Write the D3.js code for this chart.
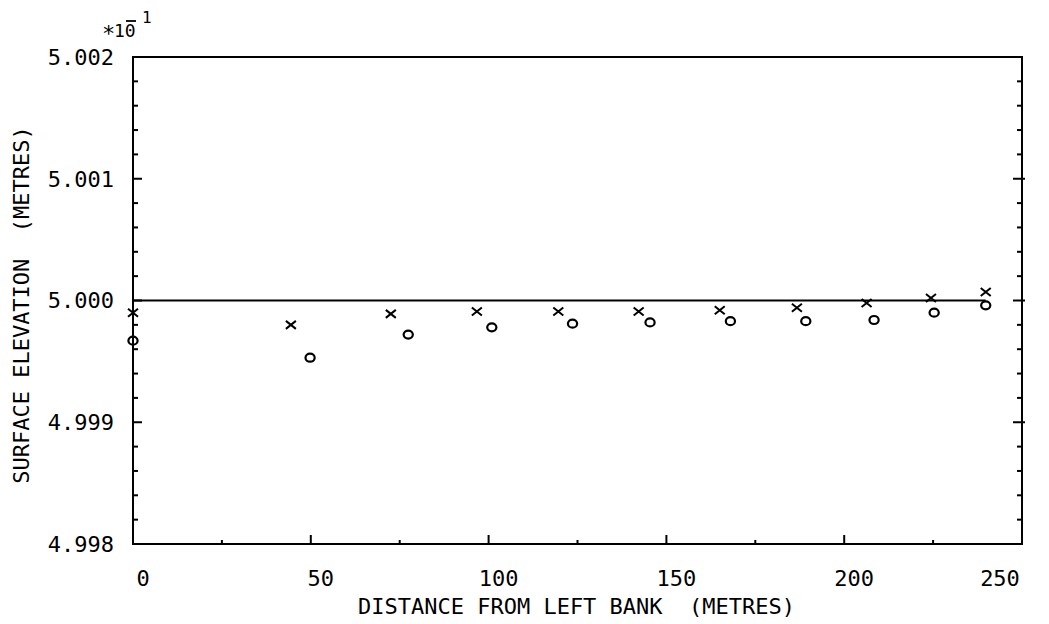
<!DOCTYPE html>
<html>
<head>
<meta charset="utf-8">
<script src="https://cdn.jsdelivr.net/npm/d3@7"></script>
<style>
  html, body { margin: 0; padding: 0; background: #fff; }
  svg { display: block; }
  text { font-family: "DejaVu Sans Mono", "Liberation Mono", monospace; fill: #000; }
</style>
</head>
<body>
<svg id="chart" width="1049" height="624"></svg>
<script>
// Cross-section surface elevation, two runs (x = crosses, o = circles)
const crossDist = [0, 44.4, 72.5, 96.7, 119.6, 142.2, 165.0, 186.7, 206.3, 224.4, 239.8];
const crossElev = [4.9999, 4.9998, 4.99989, 4.99991, 4.99991, 4.99991, 4.99992, 4.99994, 4.99998, 5.00002, 5.00007];
const circleDist = [0, 49.8, 77.4, 100.9, 123.6, 145.4, 168.0, 189.2, 208.4, 225.3, 239.8];
const circleElev = [4.99967, 4.99953, 4.99972, 4.99978, 4.99981, 4.99982, 4.99983, 4.99983, 4.99984, 4.9999, 4.99996];

// Reference level line
const levelDist = [0, 239.8];
const levelElev = [5.000, 5.000];

const xTicks = [0, 50, 100, 150, 200, 250];
const xMinorTicks = [25, 75, 125, 175, 225];
const yTicks = [4.998, 4.999, 5.000, 5.001, 5.002];
const yTickLabels = ["4.998", "4.999", "5.000", "5.001", "5.002"];

const svg = d3.select("#chart");
const plotLeft = 133, plotRight = 1022, plotTop = 57, plotBottom = 544;

const x = d3.scaleLinear().domain([0, 250]).range([plotLeft, plotRight]);
const y = d3.scaleLinear().domain([4.998, 5.002]).range([plotBottom, plotTop]);

const ink = "#000";
const sw = 2;
const fs = 22;

// Frame
svg.append("rect")
  .attr("x", plotLeft).attr("y", plotTop)
  .attr("width", plotRight - plotLeft).attr("height", plotBottom - plotTop)
  .attr("fill", "none").attr("stroke", ink).attr("stroke-width", sw);

// Bottom axis ticks (inward)
const gx = svg.append("g");
gx.selectAll("line.major").data(xTicks.slice(1, -1)).join("line")
  .attr("class", "major")
  .attr("x1", d => x(d)).attr("x2", d => x(d))
  .attr("y1", plotBottom).attr("y2", plotBottom - 9)
  .attr("stroke", ink).attr("stroke-width", sw);
gx.selectAll("line.minor").data(xMinorTicks).join("line")
  .attr("class", "minor")
  .attr("x1", d => x(d)).attr("x2", d => x(d))
  .attr("y1", plotBottom).attr("y2", plotBottom - 4)
  .attr("stroke", ink).attr("stroke-width", sw);

// Bottom tick labels, nudged right, last one kept inside the frame
gx.selectAll("text").data(xTicks).join("text")
  .attr("x", d => Math.min(x(d) + 10, plotRight - 22))
  .attr("y", 586)
  .attr("text-anchor", "middle")
  .attr("font-size", fs)
  .text(d => d);

// Left/right axis ticks every 0.0002
const yAll = d3.range(1, 20).map(i => 4.998 + i * 0.0002);
const isMajor = v => Math.abs(Math.round(v * 1000) - v * 1000) < 1e-6;
const gy = svg.append("g");
gy.selectAll("line.l").data(yAll).join("line")
  .attr("class", "l")
  .attr("x1", plotLeft).attr("x2", d => plotLeft + (isMajor(d) ? 9 : 5))
  .attr("y1", d => y(d)).attr("y2", d => y(d))
  .attr("stroke", ink).attr("stroke-width", sw);
gy.selectAll("line.r").data(yAll).join("line")
  .attr("class", "r")
  .attr("x1", d => plotRight + (isMajor(d) ? 3 : 0)).attr("x2", d => plotRight - (isMajor(d) ? 9 : 5))
  .attr("y1", d => y(d)).attr("y2", d => y(d))
  .attr("stroke", ink).attr("stroke-width", sw);

gy.selectAll("text").data(yTicks).join("text")
  .attr("x", 114)
  .attr("y", d => y(d))
  .attr("dy", "0.36em")
  .attr("text-anchor", "end")
  .attr("font-size", fs)
  .text((d, i) => yTickLabels[i]);

// Multiplier note above the axis: *10 with a bar over the 0 and a raised 1
svg.append("text").attr("x", 102).attr("y", 41).attr("font-size", 22).text("*");
svg.append("text").attr("x", 114).attr("y", 37).attr("font-size", 18).text("10");
svg.append("line").attr("x1", 126).attr("x2", 136).attr("y1", 21).attr("y2", 21)
  .attr("stroke", ink).attr("stroke-width", 1.8);
svg.append("text").attr("x", 142).attr("y", 23).attr("font-size", 16).text("1");

// Axis titles
svg.append("text")
  .attr("x", (plotLeft + plotRight) / 2 - 1).attr("y", 614)
  .attr("text-anchor", "middle").attr("font-size", fs)
  .attr("xml:space", "preserve")
  .text("DISTANCE FROM LEFT BANK  (METRES)");
svg.append("text")
  .attr("transform", "translate(29,305) rotate(-90)")
  .attr("text-anchor", "middle").attr("font-size", fs)
  .attr("xml:space", "preserve")
  .text("SURFACE ELEVATION  (METRES)");

// Level line
svg.append("path")
  .datum(d3.zip(levelDist, levelElev))
  .attr("d", d3.line().x(d => x(d[0])).y(d => y(d[1])))
  .attr("fill", "none").attr("stroke", ink).attr("stroke-width", sw);

// Crosses
const cs = 5;
svg.append("g").selectAll("path").data(d3.zip(crossDist, crossElev)).join("path")
  .attr("d", d => {
    const cx = x(d[0]), cy = y(d[1]);
    return `M${cx - cs},${cy - cs * 0.8}L${cx + cs},${cy + cs * 0.8}M${cx - cs},${cy + cs * 0.8}L${cx + cs},${cy - cs * 0.8}`;
  })
  .attr("stroke", ink).attr("stroke-width", 2).attr("fill", "none");

// Circles
svg.append("g").selectAll("ellipse").data(d3.zip(circleDist, circleElev)).join("ellipse")
  .attr("cx", d => x(d[0])).attr("cy", d => y(d[1]))
  .attr("rx", 4.6).attr("ry", 4)
  .attr("fill", "none").attr("stroke", ink).attr("stroke-width", 2.2);
</script>
</body>
</html>
